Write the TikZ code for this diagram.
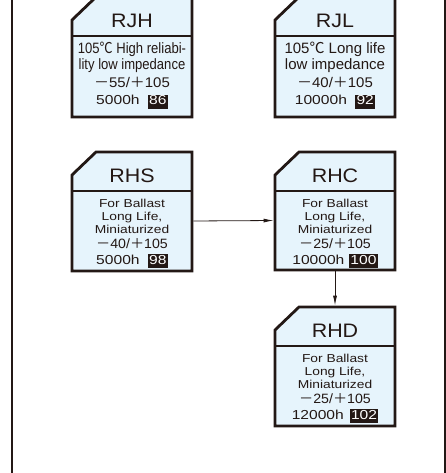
\documentclass[tikz,border=0pt]{standalone}
\usepackage{graphicx}
\usepackage{fontspec}
\setmainfont{Liberation Sans}
\newfontfamily\cjk{Noto Sans CJK JP}
\usetikzlibrary{arrows.meta,calc}
\definecolor{ink}{HTML}{231815}
\definecolor{boxblue}{HTML}{E6F4FC}
\newcommand\badge[1]{{\setlength\fboxsep{1pt}\colorbox{ink}{\textcolor{white}{\rule[-3pt]{0pt}{11.5pt}#1}}}}
\newcommand\tmp[2]{{\cjk －}#1/{\cjk ＋}#2}
\newcommand\sx[2]{\scalebox{#1}[1]{#2}}
\newcommand\drawbox[1]{%
  \filldraw[fill=boxblue, draw=ink, line width=2.8pt, line join=miter]
    (#1.south west) -- ([yshift=-23pt]#1.north west) -- ([xshift=24pt]#1.north west)
    -- (#1.north east) -- (#1.south east) -- cycle;
  \draw[ink, line width=2pt] ([yshift=-39pt]#1.north west) -- ([yshift=-39pt]#1.north east);
  \coordinate (#1-div) at ([yshift=-39pt]#1.north);
}
\tikzset{
  cbox/.style={minimum width=120pt, minimum height=#1, inner sep=0pt, outer sep=0pt},
  txt/.style={anchor=base, text=ink, inner sep=0pt},
  hdrtext/.style={txt, font=\fontsize{19.5}{19.5}\selectfont},
  bigl/.style={txt, font=\fontsize{15}{15}\selectfont},
  tempbig/.style={txt, font=\fontsize{14}{14}\selectfont},
  tempsm/.style={txt, font=\fontsize{13.5}{13.5}\selectfont},
  hourl/.style={txt, font=\fontsize{13}{13}\selectfont},
  smalll/.style={txt, font=\fontsize{11.5}{11.5}\selectfont},
  arr/.style={draw=ink, line width=0.8pt, -{Latex[length=10pt,width=4pt]}, shorten >=1.4pt, shorten <=1.4pt},
  frameline/.style={draw=ink, line width=2pt}
}
\begin{document}
\begin{tikzpicture}[x=1pt,y=-1pt]
\useasboundingbox (0,0) rectangle (445,473);
\draw[frameline] (11.5,-5) -- (11.5,480);
\draw[frameline] (444.5,-5) -- (444.5,480);

% box frames
\node[cbox=120pt] (RJH) at (132,57) {};
\node[cbox=120pt] (RJL) at (335,57) {};
\node[cbox=119pt] (RHS) at (132,211.5) {};
\node[cbox=118pt] (RHC) at (335,211) {};
\node[cbox=119pt] (RHD) at (335,366.5) {};
\drawbox{RJH}
\drawbox{RJL}
\drawbox{RHS}
\drawbox{RHC}
\drawbox{RHD}

% headers
\node[hdrtext] (RJH-t) at ([yshift=-30.3pt]RJH.north) {\sx{1.1}{RJH}};
\node[hdrtext] (RJL-t) at ([yshift=-30.3pt]RJL.north) {\sx{1.1}{RJL}};
\node[hdrtext] (RHS-t) at ([yshift=-30.5pt]RHS.north) {\sx{1.1}{RHS}};
\node[hdrtext] (RHC-t) at ([yshift=-30.5pt]RHC.north) {\sx{1.1}{RHC}};
\node[hdrtext] (RHD-t) at ([yshift=-30.3pt]RHD.north) {\sx{1.1}{RHD}};

% RJH body
\node[bigl] (RJH-a) at ([yshift=-17.2pt]RJH-div) {\sx{0.87}{105{\cjk ℃} High reliabi-}};
\node[bigl] (RJH-b) at ([yshift=-34pt]RJH-div) {\sx{0.87}{lity low impedance}};
\node[tempbig] (RJH-c) at ([yshift=-52pt]RJH-div) {\sx{1.07}{\tmp{55}{105}}};
\node[hourl] (RJH-d) at ([yshift=-69pt]RJH-div) {\sx{1.2}{5000h\hspace{7pt}\badge{86}}};

% RJL body
\node[bigl] (RJL-a) at ([yshift=-17.2pt]RJL-div) {105{\cjk ℃} Long life};
\node[bigl] (RJL-b) at ([yshift=-34pt]RJL-div) {low impedance};
\node[tempbig] (RJL-c) at ([yshift=-52pt]RJL-div) {\sx{1.07}{\tmp{40}{105}}};
\node[hourl] (RJL-d) at ([yshift=-69pt]RJL-div) {\sx{1.2}{10000h\hspace{7pt}\badge{92}}};

% RHS body
\node[smalll] (RHS-a) at ([yshift=-16.6pt]RHS-div) {\sx{1.2}{For Ballast}};
\node[smalll] (RHS-b) at ([yshift=-29.3pt]RHS-div) {\sx{1.2}{Long Life,}};
\node[smalll] (RHS-c) at ([yshift=-42pt]RHS-div) {\sx{1.2}{Miniaturized}};
\node[tempsm] (RHS-d) at ([yshift=-57pt]RHS-div) {\sx{1.05}{\tmp{40}{105}}};
\node[hourl] (RHS-e) at ([yshift=-73pt]RHS-div) {\sx{1.2}{5000h\hspace{7pt}\badge{98}}};

% RHC body
\node[smalll] (RHC-a) at ([yshift=-16.6pt]RHC-div) {\sx{1.2}{For Ballast}};
\node[smalll] (RHC-b) at ([yshift=-29.3pt]RHC-div) {\sx{1.2}{Long Life,}};
\node[smalll] (RHC-c) at ([yshift=-42pt]RHC-div) {\sx{1.2}{Miniaturized}};
\node[tempsm] (RHC-d) at ([yshift=-57pt]RHC-div) {\sx{1.05}{\tmp{25}{105}}};
\node[hourl] (RHC-e) at ([yshift=-73pt]RHC-div) {\sx{1.2}{10000h\hspace{4pt}\badge{100}}};

% RHD body
\node[smalll] (RHD-a) at ([yshift=-16.6pt]RHD-div) {\sx{1.2}{For Ballast}};
\node[smalll] (RHD-b) at ([yshift=-29.3pt]RHD-div) {\sx{1.2}{Long Life,}};
\node[smalll] (RHD-c) at ([yshift=-42pt]RHD-div) {\sx{1.2}{Miniaturized}};
\node[tempsm] (RHD-d) at ([yshift=-57pt]RHD-div) {\sx{1.05}{\tmp{25}{105}}};
\node[hourl] (RHD-e) at ([yshift=-73pt]RHD-div) {\sx{1.2}{12000h\hspace{5pt}\badge{102}}};

% connectors
\draw[arr] ([yshift=-9.5pt]RHS.east) -- ([yshift=-9.5pt]RHC.west);
\draw[arr] (RHC.south) -- (RHD.north);
\end{tikzpicture}
\end{document}
